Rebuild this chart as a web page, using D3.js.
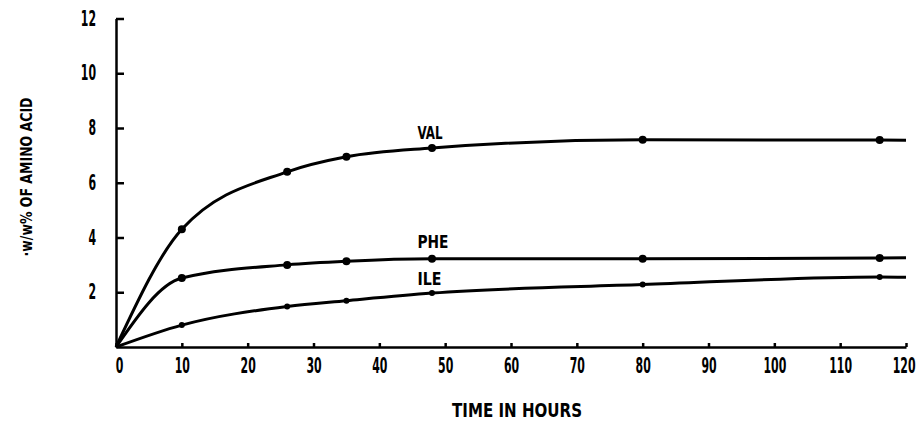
<!DOCTYPE html>
<html>
<head>
<meta charset="utf-8">
<script src="https://cdn.jsdelivr.net/npm/d3@7"></script>
<style>
  html, body { margin: 0; padding: 0; background: #fff; }
  svg text {
    font-family: "Liberation Sans Narrow", "DejaVu Sans Condensed", "Arial Narrow", "DejaVu Sans", sans-serif;
    font-weight: bold;
    fill: #000;
  }
  .axis path, .axis line { stroke: #000; stroke-width: 2.5; }
</style>
</head>
<body>
<div id="chart"></div>
<script>
// sampling times (hours); first and last are the line ends, the rest carry markers
const TIMES = [0, 10, 26, 35, 48, 80, 116, 120];
const VAL = [0, 4.3, 6.4, 6.95, 7.27, 7.57, 7.56, 7.55];
const PHE = [0, 2.52, 3.0, 3.13, 3.22, 3.22, 3.25, 3.26];
const ILE = [0, 0.8, 1.48, 1.69, 1.97, 2.28, 2.56, 2.55];

const SERIES_NAMES = ["VAL", "PHE", "ILE"];
// label anchor (time, value)
const LABEL_T = [45.8, 45.8, 45.8];
const LABEL_V = [7.6, 3.62, 2.27];

const X_TICKS = [0, 10, 20, 30, 40, 50, 60, 70, 80, 90, 100, 110, 120];
const Y_TICKS = [2, 4, 6, 8, 10, 12];

const width = 920;
const height = 422;
const DIGIT_W = 7.6; // condensed look of the printed digits

const x = d3.scaleLinear().domain([0, 120]).range([116, 906]);
const y = d3.scaleLinear().domain([0, 12]).range([347, 18.5]);

const svg = d3.select("#chart")
  .append("svg")
  .attr("width", width)
  .attr("height", height);

function squeeze(sel) {
  sel.selectAll("text")
    .style("font-size", "21px")
    .attr("lengthAdjust", "spacingAndGlyphs")
    .attr("textLength", function () { return this.textContent.length * DIGIT_W; });
}

// y axis, ticks pointing into the plot
svg.append("g")
  .attr("class", "axis")
  .attr("transform", `translate(${x(0)},0)`)
  .call(d3.axisLeft(y).tickValues(Y_TICKS).tickSizeInner(-8).tickSizeOuter(0).tickPadding(20))
  .call(squeeze);

// x axis, small ticks pointing up
svg.append("g")
  .attr("class", "axis")
  .attr("transform", `translate(0,${y(0)})`)
  .call(d3.axisBottom(x).tickValues(X_TICKS).tickSizeInner(-4).tickSizeOuter(0).tickPadding(11))
  .call(squeeze)
  .call((g) => g.selectAll("text")
    .attr("dx", (d) => (d === 0 ? 3 : d === 120 ? 9 : 0))
    .attr("text-anchor", (d) => (d === 120 ? "end" : "middle")));

svg.append("text")
  .attr("x", 452)
  .attr("y", 417)
  .attr("textLength", 130)
  .attr("lengthAdjust", "spacingAndGlyphs")
  .style("font-size", "19px")
  .text("TIME IN HOURS");

svg.append("text")
  .attr("transform", "translate(32,177) rotate(-90)")
  .attr("text-anchor", "middle")
  .attr("textLength", 159)
  .attr("lengthAdjust", "spacingAndGlyphs")
  .style("font-size", "15px")
  .text("\u00b7w/w% OF AMINO ACID");

const line = d3.line()
  .x((d) => x(d[0]))
  .y((d) => y(d[1]))
  .curve(d3.curveMonotoneX);

const LABEL_W = [25, 31, 24];

[VAL, PHE, ILE].forEach((vals, i) => {
  const pts = TIMES.map((t, j) => [t, vals[j]]);

  svg.append("path")
    .datum(pts)
    .attr("fill", "none")
    .attr("stroke", "#000")
    .attr("stroke-width", 3)
    .attr("d", line);

  svg.append("g")
    .selectAll("circle")
    .data(pts.slice(1, -1))
    .join("circle")
    .attr("cx", (d) => x(d[0]))
    .attr("cy", (d) => y(d[1]))
    .attr("r", i === 2 ? 3 : 4)
    .attr("fill", "#000");

  svg.append("text")
    .attr("x", x(LABEL_T[i]))
    .attr("y", y(LABEL_V[i]))
    .attr("textLength", LABEL_W[i])
    .attr("lengthAdjust", "spacingAndGlyphs")
    .style("font-size", "18px")
    .text(SERIES_NAMES[i]);
});
</script>
</body>
</html>
